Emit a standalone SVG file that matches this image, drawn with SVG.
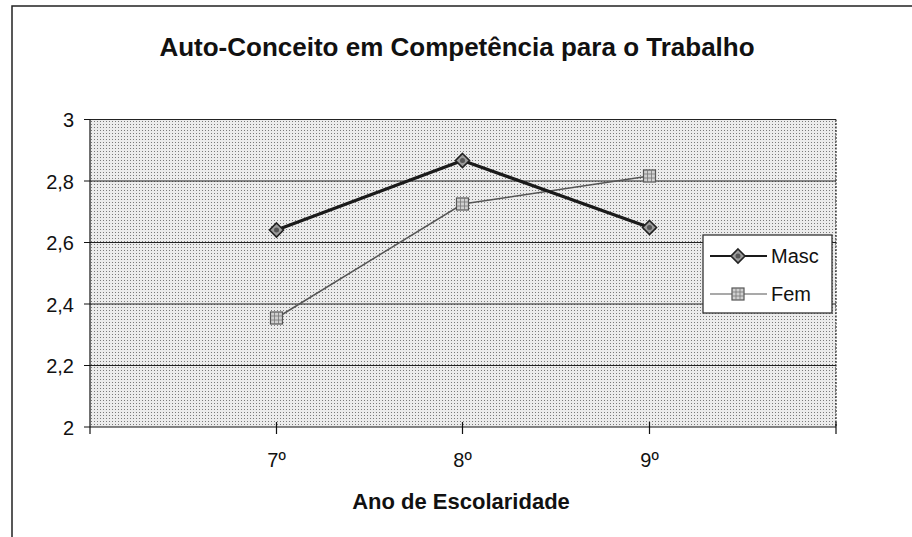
<svg xmlns="http://www.w3.org/2000/svg" xmlns:xlink="http://www.w3.org/1999/xlink" width="912" height="537" viewBox="0 0 912 537">
<style>
  .lbl { font-family: "Liberation Sans", Arial, sans-serif; font-size: 20px; fill: #111; }
  .ttl { font-family: "Liberation Sans", Arial, sans-serif; font-weight: bold; fill: #111; }
  .grid { stroke: #222; stroke-width: 1.2; }
  .tick { stroke: #111; stroke-width: 1.2; }
  .masc { fill: none; stroke: #1a1a1a; stroke-width: 3.2; stroke-linejoin: round; }
  .fem { fill: none; stroke: #555; stroke-width: 1.5; }
</style>
<defs>
  <pattern id="dots" width="3" height="3" patternUnits="userSpaceOnUse">
    <rect width="3" height="3" fill="#ececec"/>
    <rect x="1" y="1" width="1" height="1" fill="#7a7a7a"/>
  </pattern>
  <g id="dia">
    <path d="M0,-7 L7,0 L0,7 L-7,0 Z" fill="#9a9a9a" stroke="#222" stroke-width="1.6"/>
    <circle r="2.5" fill="#555"/>
  </g>
  <g id="sq">
    <rect x="-6" y="-6" width="12" height="12" fill="#d0d0d0" stroke="#555" stroke-width="1.2"/>
    <path d="M-6,-2 H6 M-6,2 H6 M-2,-6 V6 M2,-6 V6" stroke="#777" stroke-width="0.8"/>
  </g>
</defs>
<rect width="912" height="537" fill="#ffffff"/>
<g id="frame">
  <path d="M12,537 V6 H912" fill="none" stroke="#222" stroke-width="1.5"/>
</g>
<g id="title">
  <text class="ttl" x="457" y="56" font-size="26" text-anchor="middle">Auto-Conceito em Competência para o Trabalho</text>
</g>
<g id="plot">
  <rect x="90" y="119.5" width="746" height="307.5" fill="url(#dots)"/>
  <g id="gridlines">
    <line class="grid" x1="90" y1="119.5" x2="836" y2="119.5"/>
    <line class="grid" x1="90" y1="181" x2="836" y2="181"/>
    <line class="grid" x1="90" y1="242.5" x2="836" y2="242.5"/>
    <line class="grid" x1="90" y1="304" x2="836" y2="304"/>
    <line class="grid" x1="90" y1="365.5" x2="836" y2="365.5"/>
  </g>
  <line x1="836" y1="119.5" x2="836" y2="427" stroke="#222" stroke-width="1.2" stroke-dasharray="2,1.5"/>
</g>
<g id="axes">
  <line class="tick" x1="90" y1="119.5" x2="90" y2="434"/>
  <line class="tick" x1="84" y1="427" x2="836" y2="427" stroke-width="1.5"/>
  <path class="tick" d="M84,119.5 H90 M84,181 H90 M84,242.5 H90 M84,304 H90 M84,365.5 H90"/>
  <path class="tick" d="M276.5,422 V434 M462.5,422 V434 M649.5,422 V434 M836,422 V434"/>
  <g id="ylabels">
    <text class="lbl" x="74" y="127" text-anchor="end">3</text>
    <text class="lbl" x="74" y="188.5" text-anchor="end">2,8</text>
    <text class="lbl" x="74" y="250" text-anchor="end">2,6</text>
    <text class="lbl" x="74" y="311.5" text-anchor="end">2,4</text>
    <text class="lbl" x="74" y="373" text-anchor="end">2,2</text>
    <text class="lbl" x="74" y="434.5" text-anchor="end">2</text>
  </g>
  <g id="xlabels">
    <text class="lbl" x="276.5" y="467" text-anchor="middle">7º</text>
    <text class="lbl" x="462.5" y="467" text-anchor="middle">8º</text>
    <text class="lbl" x="649.5" y="467" text-anchor="middle">9º</text>
  </g>
  <text class="ttl" x="461" y="509" font-size="22" text-anchor="middle">Ano de Escolaridade</text>
</g>
<g id="connectors">
  <polyline id="fem-line" class="fem" points="276.5,318 462.5,204 649.5,176"/>
  <polyline id="masc-line" class="masc" points="276.5,230 462.5,160.5 649.5,227.5"/>
</g>
<g id="fem-points">
  <use xlink:href="#sq" x="276.5" y="318"/>
  <use xlink:href="#sq" x="462.5" y="204"/>
  <use xlink:href="#sq" x="649.5" y="176"/>
</g>
<g id="masc-points">
  <use xlink:href="#dia" x="276.5" y="230"/>
  <use xlink:href="#dia" x="462.5" y="160.5"/>
  <use xlink:href="#dia" x="649.5" y="227.5"/>
</g>
<g id="legend">
  <rect x="703" y="235" width="129" height="78" fill="#ffffff" stroke="#333" stroke-width="1.3"/>
  <line x1="710" y1="256" x2="767" y2="256" stroke="#1a1a1a" stroke-width="2"/>
  <use xlink:href="#dia" x="738" y="256"/>
  <text class="lbl" x="771" y="263">Masc</text>
  <line x1="710" y1="294" x2="767" y2="294" stroke="#555" stroke-width="1.2"/>
  <use xlink:href="#sq" x="738" y="294"/>
  <text class="lbl" x="771" y="301">Fem</text>
</g>
</svg>
